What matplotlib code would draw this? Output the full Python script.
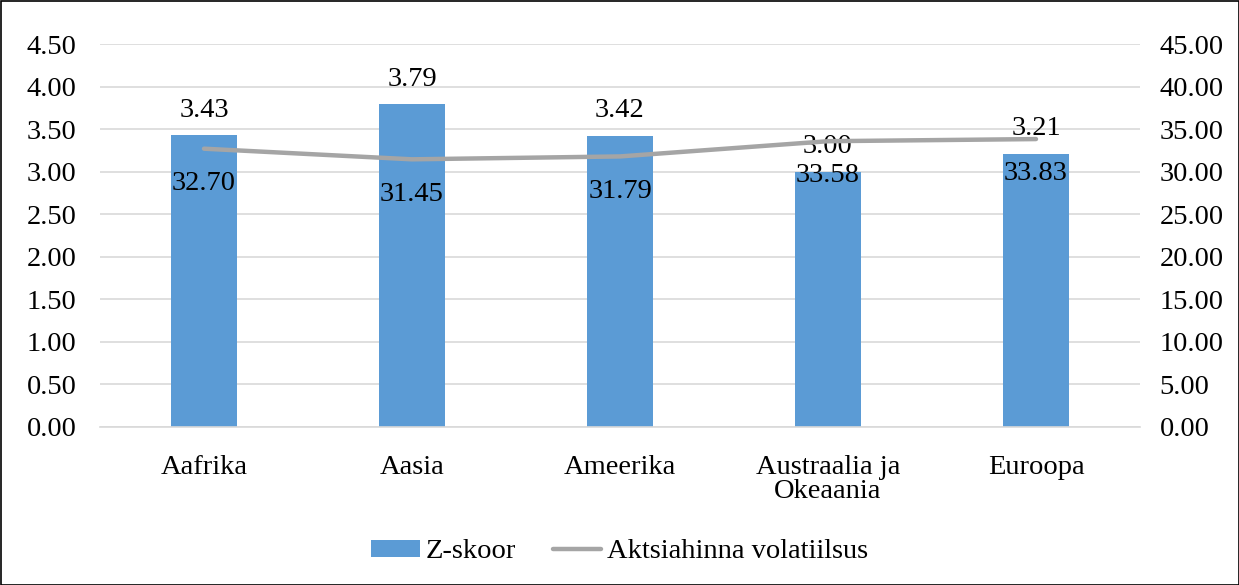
import matplotlib
matplotlib.use("Agg")
import matplotlib.pyplot as plt
import numpy as np

regions = ["Aafrika", "Aasia", "Ameerika", "Austraalia ja\nOkeaania", "Euroopa"]
z_score = [3.43, 3.79, 3.42, 3.00, 3.21]
volatility = [32.70, 31.45, 31.79, 33.58, 33.83]
left_ticks = np.arange(0, 4.51, 0.5)
right_ticks = np.arange(0, 45.1, 5)

plt.rcParams["font.family"] = ["Liberation Serif", "DejaVu Serif"]
plt.rcParams["font.size"] = 20.5

BAR = "#5B9BD5"
LINE = "#A5A5A5"
GRID = "#D9D9D9"

fig = plt.figure(figsize=(12.39, 5.85), dpi=100)
ax = fig.add_axes([100 / 1239, 158 / 585, 1040 / 1239, 383 / 585])
ax2 = ax.twinx()

x = np.arange(len(regions))
bars = ax.bar(x, z_score, width=0.32, color=BAR, zorder=2, label="Z-skoor")
ax.set_xlim(-0.5, len(regions) - 0.5)
ax.set_ylim(0, 4.5)
ax.set_yticks(left_ticks)
ax.set_yticklabels([f"{v:.2f}" for v in left_ticks])
ax.set_xticks(x)
ax.set_xticklabels(regions, linespacing=0.95)
ax.grid(axis="y", color=GRID, linewidth=1.2, zorder=0)
ax.set_axisbelow(True)
ax.tick_params(axis="y", length=0, pad=17)
ax.tick_params(axis="x", length=0, pad=20)
for s in ax.spines.values():
    s.set_visible(False)
ax.spines["bottom"].set_visible(True)
ax.spines["bottom"].set_color(GRID)
ax.spines["bottom"].set_linewidth(1.2)

# Z-score labels sit above the bars
for xi, v in zip(x, z_score):
    ax.annotate(f"{v:.2f}", (xi, v), textcoords="offset points", xytext=(0, 9),
                ha="center", va="bottom", zorder=5)

line, = ax2.plot(x, volatility, color=LINE, linewidth=3.2, zorder=3,
                 solid_capstyle="round", label="Aktsiahinna volatiilsus")
ax2.set_ylim(0, 45)
ax2.set_yticks(right_ticks)
ax2.set_yticklabels([f"{v:.2f}" for v in right_ticks])
ax2.tick_params(length=0, pad=14)
for s in ax2.spines.values():
    s.set_visible(False)
# volatility labels sit below the line points
for xi, v in zip(x, volatility):
    ax2.annotate(f"{v:.2f}", (xi, v), textcoords="offset points", xytext=(0, -25),
                 ha="center", va="center", zorder=5)

fig.legend([bars, line], ["Z-skoor", "Aktsiahinna volatiilsus"],
           loc="center", bbox_to_anchor=(0.5, 33 / 585), ncol=2, frameon=False,
           handlelength=1.7, handleheight=0.5, columnspacing=1.3, handletextpad=0.2)

fig.patches.append(plt.Rectangle((0.5 / 1239, 0.5 / 585), 1 - 1 / 1239, 1 - 1 / 585,
                                 transform=fig.transFigure, fill=False,
                                 edgecolor="black", linewidth=1.2))

fig.savefig("out.png", dpi=100)
